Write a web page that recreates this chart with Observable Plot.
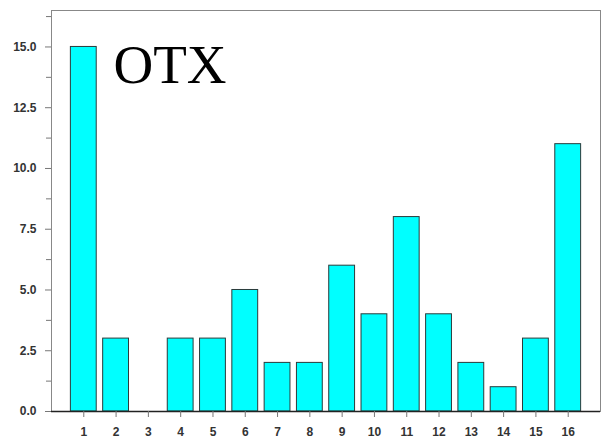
<!DOCTYPE html>
<html>
<head>
<meta charset="utf-8">
<script src="https://cdn.jsdelivr.net/npm/d3@7"></script>
<script src="https://cdn.jsdelivr.net/npm/@observablehq/plot@0.6"></script>
<style>
  html, body { margin: 0; padding: 0; background: #fff; }
  #chart svg { display: block; }
</style>
</head>
<body>
<div id="chart"></div>
<script>
const categories = [1, 2, 3, 4, 5, 6, 7, 8, 9, 10, 11, 12, 13, 14, 15, 16];
const values = [15, 3, 0, 3, 3, 5, 2, 2, 6, 4, 8, 4, 2, 1, 3, 11];
const yTicks = [0, 2.5, 5, 7.5, 10, 12.5, 15];
const yMinorTicks = [1.25, 3.75, 6.25, 8.75, 11.25, 13.75, 16.25];
const titleText = "OTX";

const data = categories.map((c, i) => ({cat: c, value: values[i]}));
const halfWidth = 0.4;

const chart = Plot.plot({
  width: 602,
  height: 444,
  marginLeft: 51,
  marginRight: 2,
  marginTop: 10,
  marginBottom: 33,
  style: {background: "#fff", fontFamily: "'Liberation Sans', Arial, sans-serif"},
  x: {domain: [0, 17], axis: null},
  y: {domain: [0, 16.5], axis: null},
  marks: [
    Plot.frame({stroke: "#888", strokeWidth: 1}),
    Plot.rectY(data, {
      x1: d => d.cat - halfWidth,
      x2: d => d.cat + halfWidth,
      y1: 0,
      y2: "value",
      fill: "#00ffff",
      stroke: "#2b3b3b",
      strokeWidth: 1
    }),
    Plot.ruleY([0], {stroke: "#222", strokeWidth: 1.5}),
    Plot.axisY(yTicks, {
      tickSize: 6,
      tickPadding: 9,
      stroke: "#777",
      tickFormat: d3.format(".1f"),
      fontSize: 12,
      fontWeight: "bold",
      fill: "#333",
      label: null
    }),
    Plot.axisY(yMinorTicks, {
      tickSize: 5,
      stroke: "#777",
      tickFormat: () => "",
      label: null
    }),
    Plot.axisX(categories, {
      tickSize: 6,
      tickPadding: 10,
      stroke: "#777",
      tickFormat: d => String(d),
      fontSize: 12,
      fontWeight: "bold",
      fill: "#333",
      label: null
    }),
    Plot.text([titleText], {
      frameAnchor: "top-left",
      textAnchor: "start",
      lineAnchor: "top",
      dx: 62,
      dy: 33,
      fontSize: 55,
      fontFamily: "'Liberation Serif', 'Times New Roman', serif",
      fill: "#000"
    })
  ]
});

document.getElementById("chart").appendChild(chart);
</script>
</body>
</html>
